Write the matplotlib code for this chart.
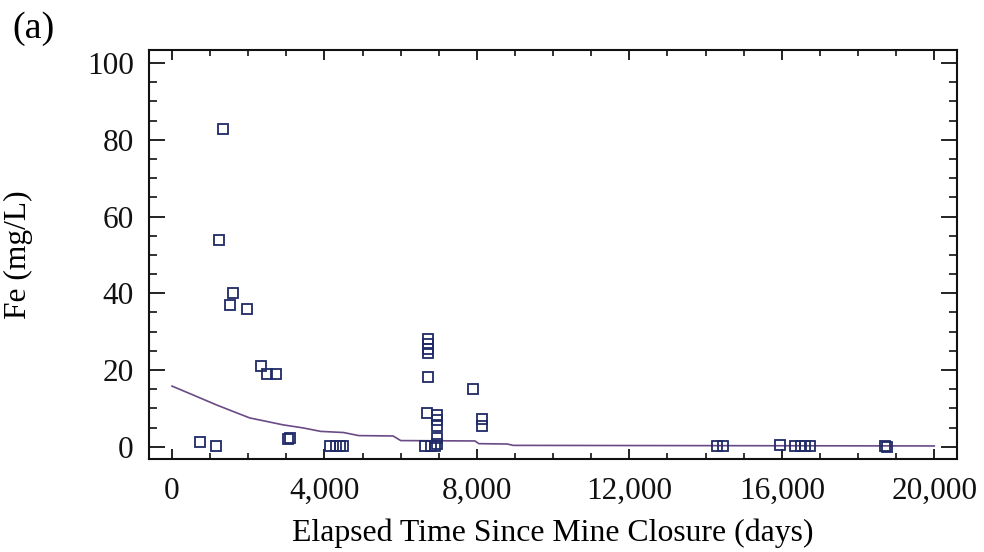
import matplotlib
matplotlib.use("Agg")
import matplotlib.pyplot as plt
from matplotlib.ticker import MultipleLocator, FuncFormatter

# Observed data (days since closure, Fe mg/L)
days = [1339, 1234, 1601, 1533, 1979, 2346, 2493, 2740, 745, 1147,
        3050, 3100, 4150, 4300, 4400, 4480,
        6719, 6719, 6719, 6719, 6719, 6677, 6955, 6955, 6955, 6955, 6955,
        6630, 6800, 6900, 7884, 8137, 8137,
        14300, 14450, 15950, 16350, 16500, 16600, 16750, 18700, 18750]
fe = [82.8, 53.8, 40.1, 36.9, 35.8, 21.1, 18.9, 18.9, 1.2, 0.1,
      2.0, 2.4, 0.2, 0.3, 0.3, 0.3,
      28.2, 26.8, 25.5, 24.3, 18.1, 8.8, 8.3, 6.9, 5.4, 2.3, 0.8,
      0.3, 0.3, 0.3, 15.0, 7.2, 5.3,
      0.1, 0.1, 0.4, 0.1, 0.2, 0.3, 0.1, 0.2, 0.0]

# Fitted curve
fit_days = [0, 550, 1165, 1600, 2040, 2480, 2913, 3440, 3900, 4500, 4900,
            5800, 6000, 7950, 8050, 8800, 8950, 20000]
fit_fe = [15.8, 13.5, 10.9, 9.2, 7.5, 6.6, 5.7, 4.9, 4.0, 3.7, 2.9,
          2.8, 1.6, 1.5, 0.8, 0.7, 0.35, 0.2]

x_ticks = [0, 4000, 8000, 12000, 16000, 20000]
y_ticks = [0, 20, 40, 60, 80, 100]

plt.rcParams['font.family'] = ['Liberation Serif', 'DejaVu Serif']

fig = plt.figure(figsize=(9.84, 5.52), dpi=100)
W, H = 984, 552
ax = fig.add_axes([149 / W, 1 - 459 / H, (957 - 149) / W, (459 - 50) / H])

ax.plot(fit_days, fit_fe, color='#6a4a86', lw=1.2, zorder=2)
ax.plot(days, fe, linestyle='none', marker='s', markersize=7,
        markerfacecolor='none', markeredgecolor='#1f2a66',
        markeredgewidth=1.3, zorder=3)

ax.set_xlim(-604, 20596)
ax.set_ylim(-3.2, 103.4)
ax.set_xticks(x_ticks)
ax.set_yticks(y_ticks)
ax.xaxis.set_minor_locator(MultipleLocator(1000))
ax.yaxis.set_minor_locator(MultipleLocator(5))
ax.xaxis.set_major_formatter(FuncFormatter(lambda v, p: f"{int(v):,}"))

for s in ax.spines.values():
    s.set_linewidth(1.5)
    s.set_color('#111111')

ax.tick_params(axis='both', which='both', direction='in', top=True, right=True,
               colors='#111111', labelcolor='#111111')
ax.tick_params(axis='x', which='major', length=7, width=1.3, labelsize=22.5, pad=13)
ax.tick_params(axis='x', which='minor', length=4, width=1.2)
ax.tick_params(axis='y', which='major', length=11.5, width=1.3, labelsize=22.5, pad=11)
ax.tick_params(axis='y', which='minor', length=6, width=1.2)

ax.set_xlabel('Elapsed Time Since Mine Closure (days)', fontsize=22.9, labelpad=9)
ax.set_ylabel('Fe (mg/L)', fontsize=22.7)
ax.yaxis.set_label_coords((18 - 149) / (957 - 149), 0.5)
ax.yaxis.label.set_va('center')

fig.text(34 / W, 1 - 29 / H, '(a)', fontsize=27.5, ha='center', va='center')

fig.savefig('out.png', dpi=100)
